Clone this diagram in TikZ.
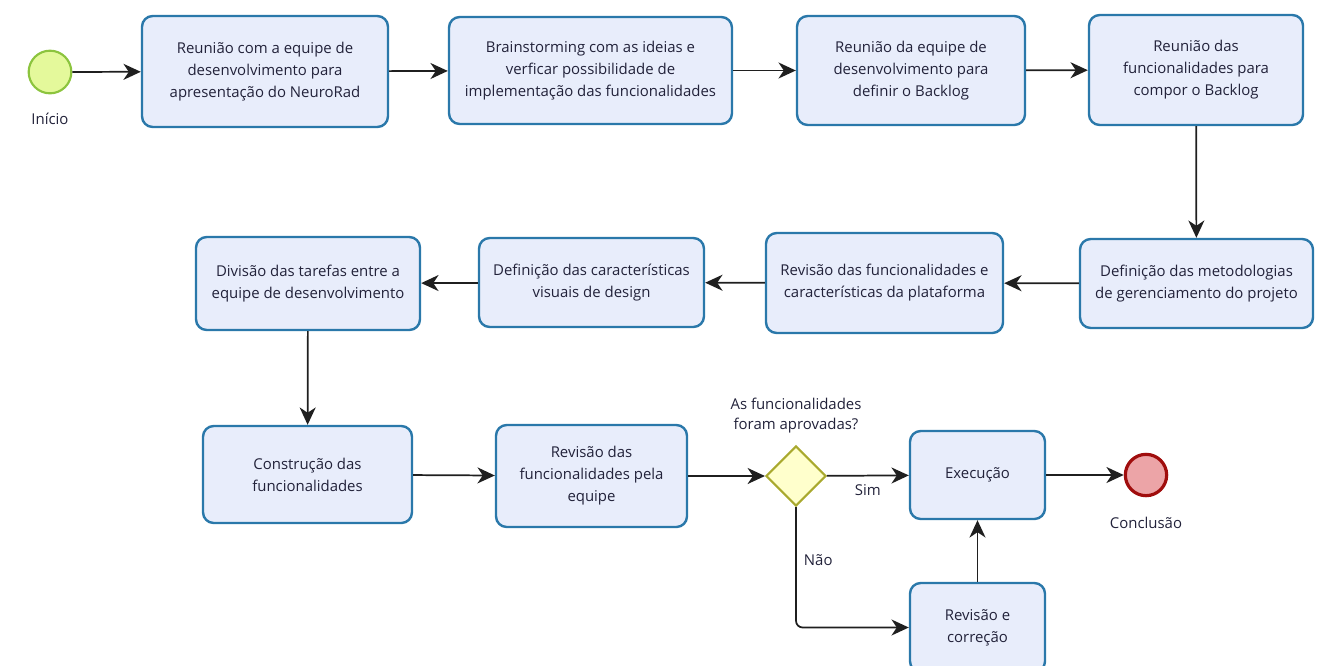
\documentclass[tikz,border=0pt]{standalone}
\usepackage{fontspec}
\setmainfont{Open Sans}
\usetikzlibrary{arrows.meta,shapes.geometric,positioning}

\definecolor{taskfill}{HTML}{E8EDFB}
\definecolor{taskline}{HTML}{2A78AA}
\definecolor{startfill}{HTML}{E4F99B}
\definecolor{startline}{HTML}{8CC43E}
\definecolor{endfill}{HTML}{ECA4A7}
\definecolor{endline}{HTML}{A00D0D}
\definecolor{gatefill}{HTML}{FFFFCC}
\definecolor{gateline}{HTML}{A9A92E}
\definecolor{txt}{HTML}{22223A}

\tikzset{
  task/.style={draw=taskline, fill=taskfill, line width=1.8pt, rounded corners=8pt,
    align=center, text=txt, font=\fontsize{11.2}{16.5}\selectfont, inner sep=2pt},
  boxsize/.style 2 args={minimum width=#1*0.75pt, minimum height=#2*0.75pt},
  startev/.style={circle, draw=startline, fill=startfill, line width=1.6pt, minimum size=32pt},
  endev/.style={circle, draw=endline, fill=endfill, line width=2.4pt, minimum size=31pt},
  gate/.style={diamond, draw=gateline, fill=gatefill, line width=1.6pt, minimum size=45pt, inner sep=0pt},
  lbl/.style={text=txt, font=\fontsize{11.2}{15}\selectfont, align=center},
  flow/.style={-{Stealth[length=13pt,width=12pt,inset=4pt]}, line width=1.3pt, black!88}
}

\begin{document}
\begin{tikzpicture}[x=0.75pt,y=-0.75pt]
\useasboundingbox (0,0) rectangle (1335,665);
\clip (0,0) rectangle (1335,665);
% eventos
\node[startev] (inicio) at (50,72) {};
\node[lbl] (inicioLbl) at (50,119) {Início};
\node[endev] (fim) at (1146,475) {};
\node[lbl] (fimLbl) at (1146,523) {Conclusão};
% primeira linha
\node[task, boxsize={246}{111}] (reuniao) at (265,71.5) {Reunião com a equipe de\\desenvolvimento para\\apresentação do NeuroRad};
\node[task, boxsize={283}{107}] (brain) at (590.5,70.5) {Brainstorming com as ideias e\\verficar possibilidade de\\implementação das funcionalidades};
\node[task, boxsize={228}{109}] (backlog) at (911,70.5) {Reunião da equipe de\\desenvolvimento para\\definir o Backlog};
\node[task, boxsize={214}{110}] (compor) at (1196,70) {Reunião das\\funcionalidades para\\compor o Backlog};
% segunda linha
\node[task, boxsize={233}{89}] (metod) at (1196.5,283.5) {Definição das metodologias\\de gerenciamento do projeto};
\node[task, boxsize={237}{100}] (revplat) at (884.5,283) {Revisão das funcionalidades e\\características da plataforma};
\node[task, boxsize={225}{89}] (design) at (591.5,282.5) {Definição das características\\visuais de design};
\node[task, boxsize={224}{93}] (divisao) at (308,283.5) {Divisão das tarefas entre a\\equipe de desenvolvimento};
% terceira linha
\node[task, boxsize={209}{97}] (constr) at (307.5,474.5) {Construção das\\funcionalidades};
\node[task, boxsize={191}{102}] (reveq) at (591.5,476) {Revisão das\\funcionalidades pela\\equipe};
\node[gate] (aprov) at (796,476) {};
\node[lbl, above=5pt of aprov] (aprovLbl) {As funcionalidades\\foram aprovadas?};
\node[task, boxsize={135}{88}] (exec) at (977.5,475) {Execução};
\node[task, boxsize={135}{89}] (corr) at (977.5,627.5) {Revisão e\\correção};
% fluxos
\draw[flow] (inicio) -- (reuniao);
\draw[flow] (reuniao) -- (brain);
\draw[flow] (brain) -- (backlog);
\draw[flow] (backlog) -- (compor);
\draw[flow] (compor) -- (metod);
\draw[flow] (metod) -- (revplat);
\draw[flow] (revplat) -- (design);
\draw[flow] (design) -- (divisao);
\draw[flow] (divisao) -- (constr);
\draw[flow] (constr) -- (reveq);
\draw[flow] (reveq) -- (aprov);
\draw[flow] (aprov) -- node[lbl, below=3pt, pos=0.5] (simLbl) {Sim} (exec);
\draw[flow] (exec) -- (fim);
\draw[flow, rounded corners=5pt] (aprov.south) |- node[lbl, pos=0.22, right=2pt] (naoLbl) {Não} (corr.west);
\draw[flow] (corr) -- (exec);
\end{tikzpicture}
\end{document}
